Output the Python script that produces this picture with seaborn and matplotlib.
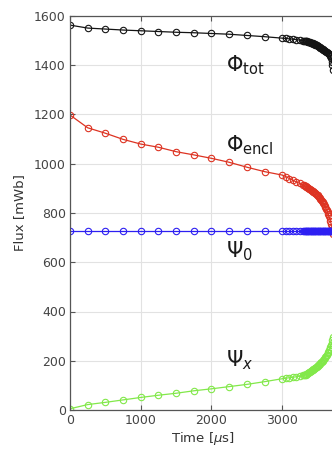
#fluxplot.py
"""Flux components versus time"""
import matplotlib
matplotlib.use('Agg')
import matplotlib.pyplot as plt
import seaborn as sns

#time samples [us]: coarse first, then denser towards the end
time_us = [0, 250, 500, 750, 1000, 1250, 1500, 1750, 2000, 2250, 2500, 2750,
           3000, 3050, 3100, 3150, 3200, 3250, 3300,
           3310, 3320, 3330, 3340, 3350, 3360, 3370, 3380, 3390, 3400,
           3410, 3420, 3430, 3440, 3450, 3460, 3470, 3480, 3490, 3500,
           3510, 3520, 3530, 3540, 3550, 3560, 3570, 3580, 3590, 3600,
           3610, 3620, 3630, 3640, 3650, 3660, 3670, 3680, 3690, 3700,
           3710, 3720]

#flux values [mWb]
phi_tot = [1563, 1551, 1547, 1543, 1540, 1537, 1534, 1532, 1529, 1526, 1521, 1516,
           1510, 1509, 1507, 1506, 1504, 1502, 1500,
           1500, 1499, 1498, 1498, 1497, 1496, 1495, 1494, 1493, 1492,
           1491, 1490, 1489, 1488, 1487, 1485, 1484, 1482, 1481, 1479,
           1478, 1476, 1474, 1472, 1470, 1468, 1466, 1463, 1461, 1459,
           1457, 1455, 1453, 1451, 1449, 1446, 1443, 1438, 1430, 1415,
           1400, 1380]
phi_encl = [1198, 1146, 1124, 1099, 1080, 1067, 1049, 1036, 1022, 1006, 986, 968,
            954, 948, 940, 933, 926, 920, 914,
            912, 911, 909, 907, 905, 903, 901, 899, 897, 895,
            893, 891, 889, 887, 885, 883, 881, 878, 875, 872,
            869, 866, 862, 858, 854, 850, 845, 840, 835, 830,
            824, 818, 811, 804, 796, 788, 778, 768, 757, 745,
            731, 715]
psi_0 = [727, 727, 727, 727, 727, 727, 727, 727, 727, 727, 727, 727,
         727, 727, 727, 727, 727, 727, 727,
         727, 727, 727, 727, 727, 727, 727, 727, 727, 727,
         727, 727, 727, 727, 727, 727, 727, 727, 727, 727,
         727, 727, 727, 727, 727, 727, 727, 727, 727, 727,
         727, 727, 727, 727, 727, 727, 727, 727, 727, 727,
         727, 727]
psi_x = [5, 22, 31, 41, 51, 60, 68, 78, 86, 95, 104, 115,
         127, 129, 131, 133, 135, 138, 141,
         142, 143, 144, 146, 147, 149, 151, 153, 155, 157,
         159, 161, 163, 165, 167, 169, 171, 174, 176, 179,
         181, 184, 187, 190, 193, 196, 199, 203, 207, 211,
         215, 220, 225, 230, 236, 242, 249, 256, 264, 272,
         283, 295]

series = [(phi_tot, '#141414', r'$\Phi_{\mathrm{tot}}$', 1400),
          (phi_encl, '#dd3322', r'$\Phi_{\mathrm{encl}}$', 1076),
          (psi_0, '#2d1ff2', r'$\Psi_{0}$', 646),
          (psi_x, '#82e84a', r'$\Psi_{x}$', 203)]

sns.set_style('whitegrid')
plt.rcParams['font.family'] = ['DejaVu Sans']
plt.rcParams['mathtext.fontset'] = 'dejavusans'

fig = plt.figure(figsize=(3.32, 4.51), dpi=100)
#axes run past the right edge of the picture, like the cropped original
ax = fig.add_axes([70 / 332, 41 / 451, 266 / 332, 394 / 451])

for values, color, label, label_y in series:
    sns.lineplot(x=time_us, y=values, ax=ax, color=color, linewidth=0.9,
                 marker='o', markersize=4.6, markerfacecolor='none',
                 markeredgecolor=color, markeredgewidth=0.8)
    ax.text(2200, label_y, label, fontsize=15, color='#1a1a1a',
            ha='left', va='center')

ax.set_xlim(0, 3760)
ax.set_ylim(0, 1600)
ax.set_xticks([0, 1000, 2000, 3000])
ax.set_yticks(range(0, 1601, 200))
ax.set_xlabel(r'Time [$\mu$s]', fontsize=9.5, color='#333333', labelpad=2)
ax.set_ylabel('Flux [mWb]', fontsize=9.5, color='#333333', labelpad=6)

ax.grid(True, color='#e2e2e2', linewidth=0.8)
ax.tick_params(direction='in', length=3.5, width=0.8, colors='#555555',
               labelsize=9, labelcolor='#444444', top=True, bottom=True,
               left=True, pad=3)
for side in ['left', 'bottom', 'top', 'right']:
    ax.spines[side].set_color('#555555')
    ax.spines[side].set_linewidth(0.9)

fig.savefig('out.png', dpi=100)
